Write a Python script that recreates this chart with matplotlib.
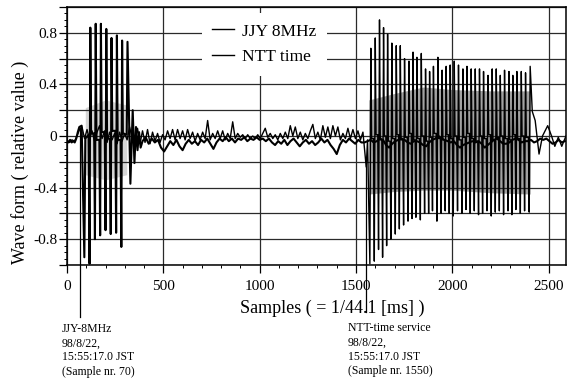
import numpy as np
import matplotlib
matplotlib.use("Agg")
import matplotlib.pyplot as plt
from matplotlib.ticker import MultipleLocator, FixedLocator, FixedFormatter, FuncFormatter

plt.rcParams['font.family'] = ['Liberation Serif', 'DejaVu Serif']

# ---------------- data ----------------
series_names = ['JJY 8MHz', 'NTT time']
x_tick_values = [0, 500, 1000, 1500, 2000, 2500]
x_tick_labels = ['0', '500', '1000', '1500', '2000', '2500']
y_tick_values = [-0.8, -0.4, 0.0, 0.4, 0.8]
y_tick_labels = ['-0.8', '-0.4', '0', '0.4', '0.8']

# JJY 8MHz (bold trace)
jjy_pre_s = [0, 8, 16, 24, 32, 40, 48, 56, 64, 76, 90, 95, 112]
jjy_pre_v = [-0.04, -0.05, -0.03, -0.05, -0.04, -0.05, -0.02, 0.03, 0.07, 0.08, -0.94, -0.02, 0.01]
jjy_bot_s = [117, 145, 172, 200, 227, 255, 282]
jjy_bot_v = [-0.99, -0.80, -0.77, -0.73, -0.76, -0.75, -0.86]
jjy_top_s = [121, 149, 176, 204, 231, 259, 286]
jjy_top_v = [0.84, 0.87, 0.87, 0.83, 0.76, 0.78, 0.74]
jjy_rest_v = [0.02, -0.03, 0.03, -0.02, 0.04, -0.03, 0.02]
jjy_post_s = [310, 314, 329, 341, 350, 358, 366, 374, 382]
jjy_post_v = [0.01, 0.73, -0.37, 0.20, -0.21, 0.07, -0.11, 0.03, -0.09]
jjy_calm_a_start, jjy_calm_step = 392, 16
jjy_calm_a = [-0.04, -0.01, -0.06, -0.02, -0.05, -0.03, -0.09, -0.12, -0.08, -0.04,
              -0.07, -0.03, -0.08, -0.11, -0.06, -0.03, -0.06, -0.04, -0.07, -0.03,
              -0.05, -0.02, -0.06, -0.10, -0.05, -0.02, -0.04, -0.01, -0.04, -0.02,
              -0.05, -0.02, -0.03, -0.01, -0.04, -0.02, -0.03, -0.01, -0.03, -0.02,
              -0.04, -0.02, -0.05, -0.07, -0.04, -0.06, -0.03, -0.07, -0.04, -0.02,
              -0.05, -0.08, -0.05, -0.03, -0.06, -0.04, -0.07, -0.05, -0.02, -0.05,
              -0.03, -0.07, -0.10, -0.14, -0.07, -0.03, -0.05, -0.02, -0.04, -0.06,
              -0.03, -0.05]
jjy_calm_b_start = 1544
jjy_calm_b = [-0.05, -0.04, -0.03, -0.05, -0.04, -0.02, -0.03, -0.07, -0.09, -0.06,
              -0.04, -0.03, -0.02, -0.03, -0.05, -0.06, -0.04, -0.04, -0.05, -0.07,
              -0.08, -0.05, -0.03, -0.02, 0.00, -0.02, -0.03, -0.04, -0.05, -0.04,
              -0.07, -0.09, -0.07, -0.06, -0.05, -0.04, -0.05, -0.04, -0.06, -0.09,
              -0.07, -0.05, -0.03, -0.02, -0.04, -0.06, -0.06, -0.05, -0.03, -0.02,
              -0.03, -0.05, -0.04, -0.04, -0.03, -0.05, -0.04, -0.02, -0.03, -0.02,
              -0.04, -0.06, -0.05, -0.03, -0.05, -0.04]

# NTT time (thin trace)
ntt_early_start, ntt_step = 0, 13
ntt_early = [-0.03, -0.05, -0.03, -0.04, 0.00, 0.05, 0.07, -0.02, 0.05, -0.03,
             0.04, -0.04, 0.03, 0.08, -0.02, 0.04, -0.05, 0.03, -0.03, 0.02,
             -0.06, 0.03, -0.04, 0.02, -0.03, 0.07, -0.02]
ntt_calm_start = 353
ntt_calm = [-0.05, 0.06, -0.06, 0.04, -0.05, 0.05, -0.06, 0.03, -0.04, 0.02,
            -0.05, 0.01, -0.03, 0.04, -0.02, 0.05, -0.03, 0.05, -0.02, 0.04,
            -0.03, 0.05, -0.02, 0.03, -0.04, 0.02, -0.03, 0.03, -0.02, 0.12,
            -0.03, 0.02, -0.02, 0.04, -0.02, 0.04, -0.03, 0.02, -0.02, 0.11,
            -0.02, 0.02, -0.01, 0.01, -0.02, 0.01, -0.02, 0.00, -0.02, 0.01,
            -0.02, 0.02, 0.06, -0.01, 0.02, -0.02, 0.01, -0.03, 0.02, -0.02,
            0.03, -0.02, 0.08, 0.00, 0.07, -0.02, 0.03, -0.03, 0.02, -0.02,
            0.04, 0.09, -0.02, 0.03, -0.03, 0.08, -0.01, 0.07, -0.02, 0.08,
            0.00, 0.07, -0.03, 0.02, -0.02, 0.06, -0.02, 0.05, -0.02, 0.04,
            -0.03, 0.03]
ntt_dip_s = [1553, 1560]
ntt_dip_v = [-0.24, -0.03]
ntt_top_s = [1577, 1600, 1622, 1643, 1664, 1686, 1709, 1730, 1752, 1775,
             1796, 1816, 1839, 1861, 1882, 1902, 1925, 1947, 1968, 1989,
             2010, 2032, 2055, 2076, 2098, 2119, 2141, 2162, 2185, 2207,
             2228, 2249, 2271, 2294, 2314, 2335, 2358, 2380, 2404]
ntt_top_v = [0.68, 0.76, 0.90, 0.84, 0.79, 0.72, 0.70, 0.70, 0.60, 0.58,
             0.65, 0.61, 0.64, 0.52, 0.50, 0.54, 0.61, 0.51, 0.54, 0.55,
             0.58, 0.55, 0.52, 0.54, 0.52, 0.52, 0.52, 0.50, 0.47, 0.52,
             0.52, 0.47, 0.51, 0.50, 0.47, 0.50, 0.50, 0.49, 0.54]
ntt_bot_v = [-0.99, -0.97, -0.88, -0.94, -0.85, -0.80, -0.76, -0.72, -0.69, -0.66,
             -0.64, -0.63, -0.65, -0.60, -0.60, -0.58, -0.66, -0.60, -0.58, -0.60,
             -0.62, -0.58, -0.60, -0.57, -0.60, -0.58, -0.61, -0.60, -0.58, -0.62,
             -0.59, -0.58, -0.61, -0.58, -0.61, -0.57, -0.60, -0.58, -0.59]
ntt_rest_v = [-0.02, 0.01, -0.03, 0.00, -0.04, -0.02, 0.01, -0.03, -0.01, 0.02,
              -0.03, -0.02, 0.00, -0.04, -0.01, 0.02, -0.02, -0.03, 0.01, -0.02,
              0.00, -0.03, -0.01, 0.02, -0.02, -0.04, 0.00, -0.02, 0.01, -0.03,
              -0.01, 0.00, -0.02, -0.03, 0.01, -0.02, 0.00, -0.01]
ntt_post_s = [2415, 2430, 2450, 2468, 2495, 2515, 2532, 2550, 2568, 2590]
ntt_post_v = [0.19, 0.12, -0.14, 0.00, 0.08, 0.00, -0.08, -0.01, -0.08, 0.00]

# dense fine oscillation inside the bursts (grey band)
ntt_band_s = [1567, 1700, 1850, 2000, 2200, 2404]
ntt_band_hi = [0.28, 0.33, 0.38, 0.36, 0.35, 0.35]
ntt_band_lo = [-0.45, -0.43, -0.42, -0.42, -0.44, -0.45]
jjy_band_s = [95, 200, 310]
jjy_band_hi = [0.22, 0.28, 0.24]
jjy_band_lo = [-0.30, -0.34, -0.30]

# annotation positions (sample numbers)
mark_jjy = 70
mark_ntt = 1550
text_jjy = "JJY-8MHz\n98/8/22,\n15:55:17.0 JST\n(Sample nr. 70)"
text_ntt = "NTT-time service\n98/8/22,\n15:55:17.0 JST\n(Sample nr. 1550)"

# ---------------- build traces ----------------
STROKE = 5  # samples between the foot and the tip of a burst stroke
REST = 4


def burst(bot_s, bot_v, top_s, top_v, rest_v):
    xs, ys = [], []
    n = len(bot_s)
    for k in range(n):
        xs += [bot_s[k], top_s[k]]
        ys += [bot_v[k], top_v[k]]
        if k < len(rest_v):
            xs.append(top_s[k] + REST)
            ys.append(rest_v[k])
            if k + 1 < n:
                xs.append(bot_s[k + 1] - REST)
                ys.append(rest_v[k])
    return xs, ys


def uniform(start, step, vals):
    return list(start + step * np.arange(len(vals))), list(vals)


bx, by = burst(jjy_bot_s, jjy_bot_v, jjy_top_s, jjy_top_v, jjy_rest_v)
ax_, ay_ = uniform(jjy_calm_a_start, jjy_calm_step, jjy_calm_a)
cx_, cy_ = uniform(jjy_calm_b_start, jjy_calm_step, jjy_calm_b)
jjy_x = jjy_pre_s + bx + jjy_post_s + ax_ + cx_
jjy_y = jjy_pre_v + by + jjy_post_v + ay_ + cy_

ntt_bot_s = [s - STROKE for s in ntt_top_s]
ex, ey = uniform(ntt_early_start, ntt_step, ntt_early)
nx, ny = uniform(ntt_calm_start, ntt_step, ntt_calm)
bx2, by2 = burst(ntt_bot_s, ntt_bot_v, ntt_top_s, ntt_top_v, ntt_rest_v)
ntt_x = ex + nx + ntt_dip_s + bx2 + ntt_post_s
ntt_y = ey + ny + ntt_dip_v + by2 + ntt_post_v

# ---------------- figure ----------------
W, H = 571, 385
fig = plt.figure(figsize=(W / 100, H / 100), dpi=100)
L, R, T, B = 67, 566, 7, 265
ax = fig.add_axes([L / W, 1 - B / H, (R - L) / W, (B - T) / H])

ax.fill_between(ntt_band_s, ntt_band_lo, ntt_band_hi, color='#a2a2a2', lw=0, zorder=1)
ax.fill_between(jjy_band_s, jjy_band_lo, jjy_band_hi, color='#d6d6d6', lw=0, zorder=1)

l_ntt, = ax.plot(ntt_x, ntt_y, color='black', lw=1.0, zorder=2.2, label=series_names[1])
l_jjy, = ax.plot(jjy_x, jjy_y, color='black', lw=1.5, zorder=2.4, label=series_names[0])

ax.set_xlim(0, 2590)
ax.set_ylim(-1.0, 1.0)

ax.xaxis.set_major_locator(FixedLocator(x_tick_values))
ax.xaxis.set_major_formatter(FixedFormatter(x_tick_labels))
ax.xaxis.set_minor_locator(MultipleLocator(100))
ax.yaxis.set_major_locator(MultipleLocator(0.2))


def ylab(v, p):
    r = round(v, 1)
    if abs(v - r) < 1e-6 and r in y_tick_values:
        return y_tick_labels[y_tick_values.index(r)]
    return ''


ax.yaxis.set_major_formatter(FuncFormatter(ylab))
ax.yaxis.set_minor_locator(MultipleLocator(0.05))

ax.tick_params(axis='both', which='major', direction='out', length=5.5, width=0.9,
               color='black', labelsize=11)
ax.tick_params(axis='both', which='minor', direction='out', length=2.5, width=0.7)
ax.tick_params(axis='x', which='major', pad=5)
ax.tick_params(axis='y', which='major', pad=1.5)

ax.grid(True, which='major', color='#2a2a2a', lw=0.9)
for sp in ax.spines.values():
    sp.set_linewidth(1.1)
    sp.set_color('black')

leg_fs = 12.5
leg = ax.legend(handles=[l_jjy, l_ntt], loc='upper left',
                bbox_to_anchor=((202 - L) / (R - L), (B - 13) / (B - T)),
                fontsize=leg_fs, frameon=True, fancybox=False, edgecolor='none',
                facecolor='white', framealpha=1.0, borderpad=0.6,
                handlelength=1.26, handletextpad=0.46, labelspacing=0.55,
                borderaxespad=0)
for h in leg.legend_handles:
    h.set_linewidth(1.0)
leg.set_zorder(5)

# axis titles
fig.text(332 / W, 1 - 308 / H, "Samples ( = 1/44.1 [ms] )", ha='center', va='center',
         fontsize=13)
fig.text(20 / W, 1 - 162 / H, "Wave form ( relative value )", ha='center', va='center',
         rotation=90, fontsize=13)

# annotation marker lines
trans = ax.get_xaxis_transform()
ax.plot([mark_jjy, mark_jjy], [(0.06 + 1) / 2, -(317 - B) / (B - T)], color='black',
        lw=0.9, transform=trans, clip_on=False, zorder=3)
ax.plot([mark_ntt, mark_ntt], [(-0.22 + 1) / 2, -(312 - B) / (B - T)], color='black',
        lw=0.9, transform=trans, clip_on=False, zorder=3)

fig.text(62 / W, 1 - 323 / H, text_jjy, ha='left', va='top', fontsize=8.5,
         linespacing=1.25)
fig.text(348 / W, 1 - 322 / H, text_ntt, ha='left', va='top', fontsize=8.5,
         linespacing=1.25)

fig.savefig("out.png", dpi=100)
